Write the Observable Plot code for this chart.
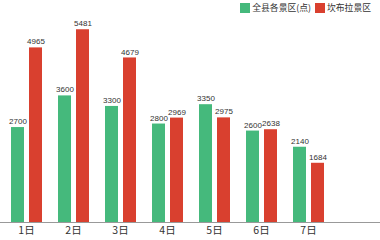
<!DOCTYPE html>
<html><head><meta charset="utf-8">
<script src="https://cdn.jsdelivr.net/npm/d3@7"></script>
<script src="https://cdn.jsdelivr.net/npm/@observablehq/plot@0.6"></script>
<style>
body{margin:0;background:#fff;font-family:"Noto Sans CJK SC","Noto Sans",sans-serif;}
#wrap{position:relative;width:380px;height:240px;}
#legend{position:absolute;top:2px;right:9px;display:flex;align-items:center;font-size:8.8px;color:#333;line-height:12px;}
#legend span.sw{display:inline-block;width:10px;height:10px;margin-right:2px;}
#legend .item{display:flex;align-items:center;margin-left:4px;}
</style></head>
<body><div id="wrap"><div id="legend"></div></div>
<script>
const days = ["1日","2日","3日","4日","5日","6日","7日"];
const seriesNames = ["全县各景区(点)","坎布拉景区"];
const countyValues = [2700,3600,3300,2800,3350,2600,2140];
const kanbulaValues = [4965,5481,4679,2969,2975,2638,1684];
const colors = ["#45b97c","#d9402f"];

const data = [];
days.forEach((d,i)=>{
  data.push({day:d, series:seriesNames[0], value:countyValues[i]});
  data.push({day:d, series:seriesNames[1], value:kanbulaValues[i]});
});

const leg = document.getElementById("legend");
seriesNames.forEach((s,i)=>{
  const it = document.createElement("div"); it.className="item";
  it.innerHTML = `<span class="sw" style="background:${colors[i]}"></span><span>${s}</span>`;
  leg.appendChild(it);
});

const chart = Plot.plot({
  width:380, height:240,
  marginLeft:2, marginRight:49, marginTop:11, marginBottom:18,
  style:{fontFamily:"'Noto Sans CJK SC','Noto Sans',sans-serif", color:"#333", fontSize:"10.5px"},
  fx:{domain:days, paddingInner:0.32, paddingOuter:0.16, label:null, axis:"bottom", tickSize:0, tickPadding:4},
  x:{domain:seriesNames, paddingInner:0.3, paddingOuter:0, axis:null},
  y:{domain:[0,6000], axis:null},
  color:{domain:seriesNames, range:colors},
  marks:[
    Plot.barY(data,{fx:"day", x:"series", y:"value", fill:"series"}),
    Plot.text(data,{fx:"day", x:"series", y:"value", text:d=>String(d.value), dy:-6, fontSize:8, fontFamily:"'Liberation Sans',Arial,sans-serif", fill:"#333"}),
    Plot.ruleY([0],{stroke:"#999", strokeWidth:1, insetLeft:-12, insetRight:-60})
  ]
});
chart.style.overflow="visible";
document.getElementById("wrap").appendChild(chart);
</script></body></html>
